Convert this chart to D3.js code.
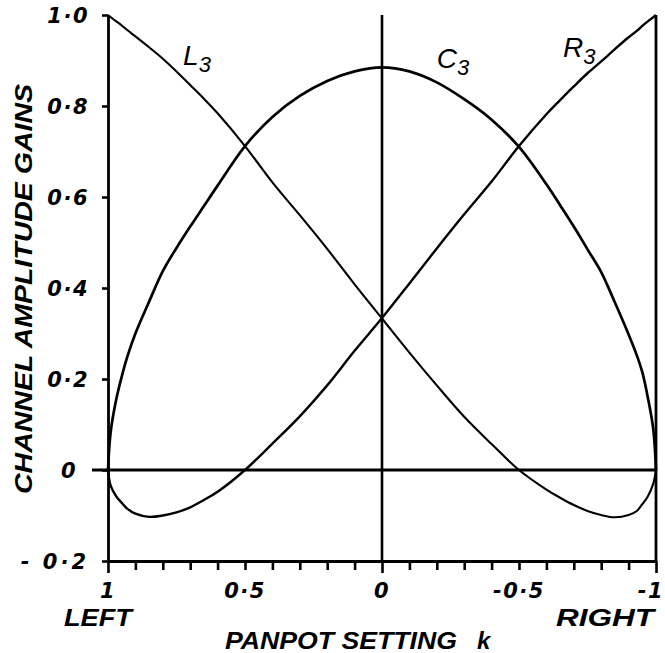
<!DOCTYPE html>
<html>
<head>
<meta charset="utf-8">
<script src="https://cdn.jsdelivr.net/npm/d3@7"></script>
<style>
  body { margin: 0; background: #fff; }
  svg { display: block; }
  text { fill: #000; }
</style>
</head>
<body>
<script>
// Panpot setting k, from full left (1) to full right (-1)
const panpotK = [1, 0.99, 0.97, 0.95, 0.93, 0.9, 0.85, 0.8, 0.75, 0.7, 0.65, 0.6, 0.5, 0.4, 0.3, 0.2, 0.1, 0,
                 -0.1, -0.2, -0.3, -0.4, -0.5, -0.6, -0.65, -0.7, -0.75, -0.8, -0.85, -0.9, -0.93, -0.95, -0.97, -0.99, -1];

// Channel amplitude gains for the three speaker feeds
const gainL3 = [1.0, 0.995, 0.986, 0.977, 0.967, 0.953, 0.929, 0.904, 0.876, 0.846, 0.816, 0.784, 0.712, 0.632, 0.56,
                0.486, 0.408, 0.333, 0.258, 0.186, 0.117, 0.057, 0.0, -0.043, -0.061, -0.077, -0.09, -0.099, -0.104,
                -0.099, -0.09, -0.075, -0.058, -0.03, 0];
const gainC3 = [0, 0.085, 0.155, 0.205, 0.248, 0.3, 0.37, 0.437, 0.488, 0.535, 0.58, 0.625, 0.712, 0.776, 0.822,
                0.855, 0.876, 0.885, 0.876, 0.852, 0.815, 0.77, 0.71, 0.628, 0.582, 0.535, 0.485, 0.435, 0.368,
                0.298, 0.252, 0.215, 0.16, 0.09, 0];
const gainR3 = [0, -0.035, -0.058, -0.072, -0.085, -0.096, -0.103, -0.1, -0.093, -0.082, -0.066, -0.048, 0.0, 0.058, 0.118,
                0.186, 0.262, 0.334, 0.41, 0.487, 0.562, 0.634, 0.712, 0.782, 0.813, 0.843, 0.872, 0.898, 0.925,
                0.951, 0.965, 0.976, 0.986, 0.995, 1.0];

const yTickValues = [-0.2, 0, 0.2, 0.4, 0.6, 0.8, 1.0];
const yTickLabels = ["- 0·2", "0", "0·2", "0·4", "0·6", "0·8", "1·0"];
const xMinorTicks = [1, 0.9, 0.8, 0.7, 0.6, 0.5, 0.4, 0.3, 0.2, 0.1, 0, -0.1, -0.2, -0.3, -0.4, -0.5, -0.6, -0.7, -0.8, -0.9, -1];
const xLabelValues = [1, 0.5, 0, -0.5, -1];
const xLabelText = ["1", "0·5", "0", "-0·5", "-1"];

const W = 665, H = 653;
const svg = d3.select("body").append("svg").attr("width", W).attr("height", H);

const x = d3.scaleLinear().domain([1, -1]).range([108, 656]);
const y = d3.scaleLinear().domain([-0.2, 1]).range([561, 15]);

const hand = "'DejaVu Sans', 'Liberation Sans', sans-serif";

// Left gain axis with ticks every 0.2
const yAxis = d3.axisLeft(y)
  .tickValues(yTickValues)
  .tickSize(6)
  .tickSizeOuter(0)
  .tickPadding(13)
  .tickFormat((d, i) => yTickLabels[i]);
const gy = svg.append("g").attr("transform", `translate(${x(1)},0)`).call(yAxis);
gy.select(".domain").attr("stroke-width", 2.8);
gy.selectAll(".tick line").attr("stroke-width", 2.6);
gy.selectAll(".tick text")
  .attr("font-family", hand).attr("font-style", "italic").attr("font-weight", "bold")
  .attr("font-size", 21).attr("fill", "#000").attr("dy", "0.36em")
  .attr("letter-spacing", 1.5);
gy.selectAll(".tick").filter(d => d === 0).select("text").attr("dx", -12);
gy.selectAll(".tick").filter(d => d === -0.2).select("text").attr("letter-spacing", 3);

// Bottom panpot axis along the -0.2 line, minor ticks every 0.1
const xAxis = d3.axisBottom(x)
  .tickValues(xMinorTicks)
  .tickSize(9)
  .tickSizeOuter(0)
  .tickFormat("");
const gx = svg.append("g").attr("transform", `translate(0,${y(-0.2)})`).call(xAxis);
gx.select(".domain").attr("stroke-width", 2.8);
gx.selectAll(".tick line").attr("stroke-width", 2.6)
  .attr("y2", d => (d === 1 || d === 0 || d === -1) ? 12 : 9);

// Tick labels for the panpot axis
svg.append("g").selectAll("text")
  .data(xLabelValues)
  .join("text")
  .attr("x", d => x(d) + (d === -1 ? -5 : 0))
  .attr("y", 598)
  .attr("text-anchor", "middle")
  .attr("font-family", hand).attr("font-style", "italic").attr("font-weight", "bold")
  .attr("font-size", 21).attr("letter-spacing", 1.5)
  .text((d, i) => xLabelText[i]);

// Reference lines: centre (k = 0), right edge (k = -1) and the zero gain line
const guides = svg.append("g").attr("stroke", "#000").attr("fill", "none");
guides.append("line")
  .attr("x1", x(0)).attr("x2", x(0)).attr("y1", y(1)).attr("y2", y(-0.2))
  .attr("stroke-width", 2.6);
guides.append("line")
  .attr("x1", x(-1)).attr("x2", x(-1)).attr("y1", y(1)).attr("y2", y(-0.2))
  .attr("stroke-width", 2.8);
guides.append("line")
  .attr("x1", x(1) - 16).attr("x2", x(-1)).attr("y1", y(0)).attr("y2", y(0))
  .attr("stroke-width", 2.8);

// Gain curves
const line = d3.line()
  .x(d => x(d[0]))
  .y(d => y(d[1]))
  .curve(d3.curveCatmullRom.alpha(0.5));

const series = [
  { name: "L", values: gainL3, width: 2.1 },
  { name: "C", values: gainC3, width: 2.7 },
  { name: "R", values: gainR3, width: 2.4 }
];
svg.append("g").selectAll("path")
  .data(series)
  .join("path")
  .attr("d", s => line(panpotK.map((k, i) => [k, s.values[i]])))
  .attr("fill", "none")
  .attr("stroke", "#000")
  .attr("stroke-width", s => s.width)
  .attr("stroke-linejoin", "round");

// Curve names with subscript 3
const curveLabels = [
  { name: "L", k: 0.726, v: 0.89 },
  { name: "C", k: -0.2, v: 0.884 },
  { name: "R", k: -0.661, v: 0.908 }
];
const cl = svg.append("g").selectAll("text")
  .data(curveLabels)
  .join("text")
  .attr("x", d => x(d.k))
  .attr("y", d => y(d.v))
  .attr("font-family", "'Liberation Sans', sans-serif").attr("font-style", "italic")
  .attr("font-size", 28);
cl.append("tspan").text(d => d.name);
cl.append("tspan").attr("dy", 7).attr("font-size", 22).text("3");

// Axis titles
const titleFont = "'Liberation Sans', 'DejaVu Sans', sans-serif";
svg.append("text")
  .attr("transform", "translate(32,289) rotate(-90)")
  .attr("text-anchor", "middle")
  .attr("font-family", titleFont).attr("font-style", "italic").attr("font-weight", "bold")
  .attr("font-size", 24)
  .attr("textLength", 410).attr("lengthAdjust", "spacingAndGlyphs")
  .text("CHANNEL AMPLITUDE GAINS");

svg.append("text")
  .attr("x", 64).attr("y", 626)
  .attr("font-family", titleFont).attr("font-style", "italic").attr("font-weight", "bold")
  .attr("font-size", 23)
  .attr("textLength", 68).attr("lengthAdjust", "spacingAndGlyphs")
  .text("LEFT");

svg.append("text")
  .attr("x", 556).attr("y", 626)
  .attr("font-family", titleFont).attr("font-style", "italic").attr("font-weight", "bold")
  .attr("font-size", 23)
  .attr("textLength", 98).attr("lengthAdjust", "spacingAndGlyphs")
  .text("RIGHT");

const xt = svg.append("text")
  .attr("x", 225).attr("y", 649)
  .attr("font-family", titleFont).attr("font-style", "italic").attr("font-weight", "bold")
  .attr("font-size", 23);
xt.append("tspan").attr("textLength", 232).attr("lengthAdjust", "spacingAndGlyphs").text("PANPOT SETTING");
xt.append("tspan").attr("x", 477).attr("font-size", 24).text("k");
</script>
</body>
</html>
